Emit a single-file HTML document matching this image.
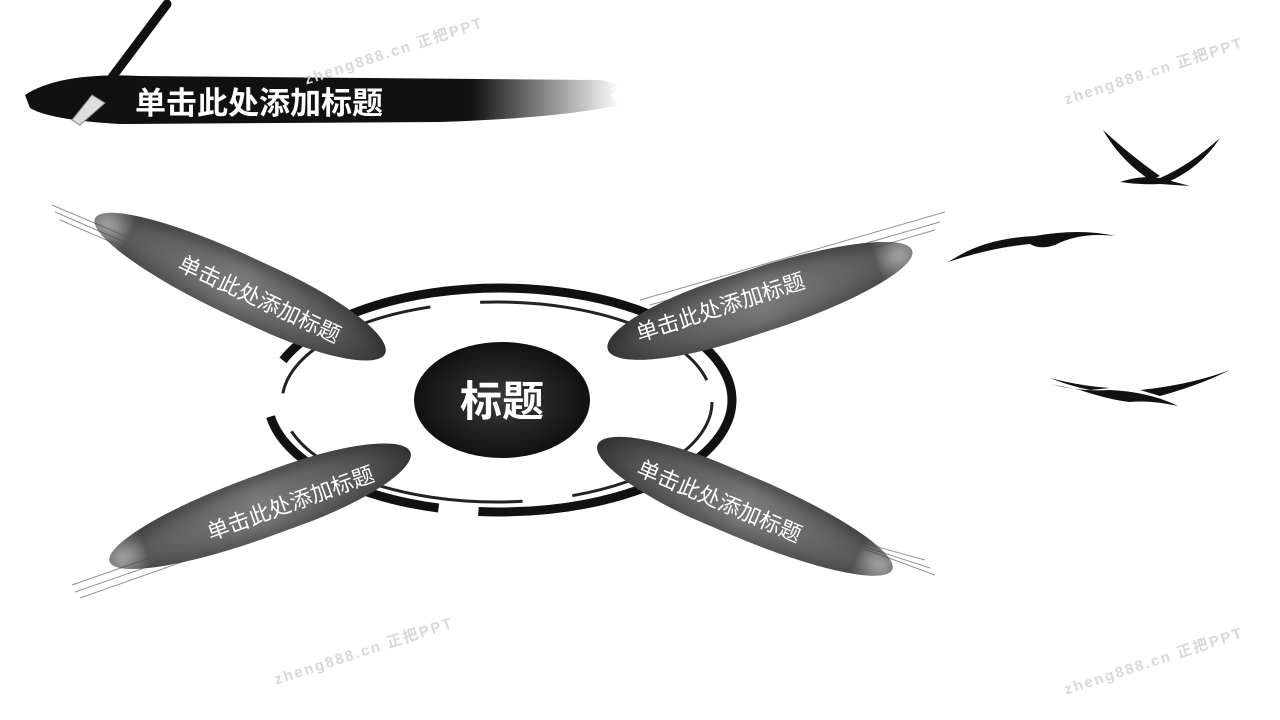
<!DOCTYPE html>
<html><head><meta charset="utf-8"><style>
html,body{margin:0;padding:0;}
body{width:1280px;height:720px;background:#fff;position:relative;overflow:hidden;font-family:"Liberation Sans","Noto Sans CJK SC",sans-serif;}
.s{position:absolute;border-radius:50% 40% 40% 50%/50%;background:linear-gradient(90deg,rgba(90,90,90,0) 0%,#5c5c5c 12%,#7a7a7a 50%,#555 85%,#3a3a3a 100%);box-shadow:inset 0 8px 14px rgba(40,40,40,0.5),inset 0 -8px 14px rgba(60,60,60,0.5);}
.s2{position:absolute;border-radius:40% 50% 50% 40%/50%;background:linear-gradient(270deg,rgba(90,90,90,0) 0%,#5c5c5c 12%,#7a7a7a 50%,#555 85%,#3a3a3a 100%);box-shadow:inset 0 8px 14px rgba(40,40,40,0.5),inset 0 -8px 14px rgba(60,60,60,0.5);}
.t{position:absolute;color:#fff;font-size:22px;white-space:nowrap;transform-origin:center;text-align:center;}
.wm{position:absolute;color:#d8d8d8;font-size:15px;font-weight:bold;letter-spacing:2px;transform:rotate(-18deg);white-space:nowrap;}
</style></head><body>
<svg width="1280" height="720" style="position:absolute;left:0;top:0">
<defs>
<linearGradient id="br" x1="0" x2="1"><stop offset="0" stop-color="#111"/><stop offset="0.75" stop-color="#111"/><stop offset="1" stop-color="#111" stop-opacity="0"/></linearGradient>
<radialGradient id="cg" cx="0.5" cy="0.5" r="0.5"><stop offset="0" stop-color="#3a3a3a"/><stop offset="1" stop-color="#111"/></radialGradient>
</defs>
<path d="M25 95 Q60 72 140 76 L600 80 Q630 85 610 95 L620 105 Q560 118 440 122 L120 124 Q50 120 30 108 Z" fill="url(#br)"/>
<line x1="167" y1="4" x2="95" y2="100" stroke="#111" stroke-width="9" stroke-linecap="round"/>
<path d="M92 95 L105 103 L80 125 L72 120 Z" fill="#ddd" stroke="#888"/>
<ellipse cx="500" cy="400" rx="232" ry="112" fill="none" stroke="#111" stroke-width="9" stroke-dasharray="300 40 200 60 400 30"/>
<ellipse cx="497" cy="402" rx="215" ry="100" fill="none" stroke="#222" stroke-width="3" stroke-dasharray="180 50 250 40"/>
<ellipse cx="502" cy="400" rx="88" ry="58" fill="url(#cg)"/>
<text x="502" y="416" fill="#fff" font-size="42" font-weight="bold" text-anchor="middle" font-family="Liberation Sans,Noto Sans CJK SC,sans-serif">标题</text>
<g stroke="#666" stroke-width="1" opacity="0.7">
<line x1="52" y1="205" x2="300" y2="310"/><line x1="55" y1="212" x2="300" y2="318"/><line x1="60" y1="220" x2="280" y2="315"/>
<line x1="640" y1="300" x2="945" y2="212"/><line x1="650" y1="305" x2="940" y2="222"/><line x1="660" y1="310" x2="935" y2="230"/>
<line x1="72" y1="585" x2="350" y2="488"/><line x1="75" y1="592" x2="340" y2="500"/><line x1="80" y1="598" x2="330" y2="510"/>
<line x1="650" y1="470" x2="935" y2="575"/><line x1="660" y1="480" x2="930" y2="568"/><line x1="670" y1="490" x2="925" y2="560"/>
</g>
<g fill="#111">
<path d="M1120 182 Q1140 175 1160 178 L1190 186 L1160 184 Q1140 185 1120 182Z"/>
<path d="M1150 180 Q1120 160 1103 130 Q1130 155 1160 176Z"/>
<path d="M1160 178 Q1190 165 1220 138 Q1200 168 1168 182Z"/>
<path d="M960 255 Q990 238 1035 236 Q1080 228 1115 236 Q1080 232 1055 245 Q1040 250 1030 244 Q990 248 948 262Z"/>
<path d="M1050 384 Q1080 392 1110 390 Q1150 392 1178 406 Q1150 400 1130 402 Q1110 400 1080 390Z"/>
<path d="M1090 390 Q1070 386 1050 378 Q1080 386 1110 388Z"/>
<path d="M1140 390 Q1190 385 1230 370 Q1200 385 1160 396Z"/>
</g>
</svg>
<div style="position:absolute;left:135px;top:78px;color:#fff;font-size:31px;font-weight:bold;">单击此处添加标题</div>
<div class="s" style="left:80px;top:255px;width:320px;height:62px;transform:rotate(25deg);"></div>
<div class="t" style="left:100px;top:282px;width:320px;transform:rotate(25deg);">单击此处添加标题</div>
<div class="s2" style="left:600px;top:268px;width:320px;height:64px;transform:rotate(-18deg);"></div>
<div class="t" style="left:560px;top:290px;width:320px;transform:rotate(-18deg);">单击此处添加标题</div>
<div class="s" style="left:100px;top:476px;width:320px;height:62px;transform:rotate(-20deg);"></div>
<div class="t" style="left:130px;top:486px;width:320px;transform:rotate(-20deg);">单击此处添加标题</div>
<div class="s2" style="left:585px;top:476px;width:320px;height:62px;transform:rotate(23deg);"></div>
<div class="t" style="left:560px;top:484px;width:320px;transform:rotate(23deg);">单击此处添加标题</div>
<div class="wm" style="left:300px;top:40px;">zheng888.cn 正把PPT</div>
<div class="wm" style="left:1060px;top:60px;">zheng888.cn 正把PPT</div>
<div class="wm" style="left:270px;top:640px;">zheng888.cn 正把PPT</div>
<div class="wm" style="left:1060px;top:650px;">zheng888.cn 正把PPT</div>
</body></html>
